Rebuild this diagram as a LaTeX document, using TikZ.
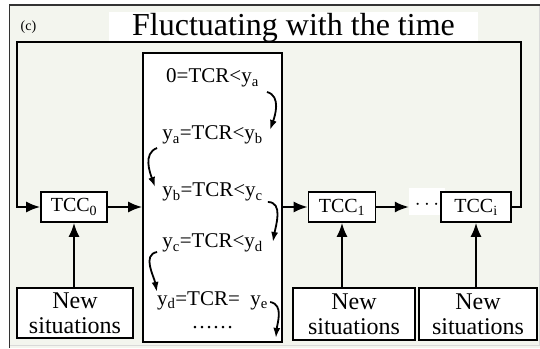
\documentclass[tikz,border=0pt]{standalone}
\usepackage{fontspec}
\setmainfont{Liberation Serif}
\usetikzlibrary{arrows.meta,calc}
\definecolor{bgpanel}{RGB}{243,245,238}
\begin{document}
\begin{tikzpicture}[
  x=1pt, y=1pt,
  box/.style={draw, line width=1.8pt, fill=white, inner sep=0pt},
  tcc/.style={box, minimum width=66pt, minimum height=30pt, font=\fontsize{20}{22}\selectfont},
  newbox/.style={box, minimum height=50pt, align=center, font=\fontsize{24}{25}\selectfont},
  row/.style={anchor=base, inner sep=0pt, font=\fontsize{21}{24}\selectfont},
  flow/.style={line width=1.8pt, -{Latex[length=14pt,width=11pt]}},
  hop/.style={line width=1.8pt, -{Latex[length=10pt,width=7pt]}}
]
  \useasboundingbox (0,0) rectangle (540,348);
  \fill[bgpanel] (9.5,0) rectangle (540,343);
  \draw[gray!30, line width=1pt] (539,343) -- (539,3) -- (9.5,3);
  \draw[black!80, line width=1.4pt] (9.5,0) -- (9.5,343) -- (540,343);

  \node[font=\fontsize{14}{16}\selectfont, anchor=base, inner sep=0pt] (tag) at (28.5,317) {(c)};
  \node[fill=white, minimum width=369pt, inner sep=0pt, text height=24pt, text depth=5pt,
        font=\fontsize{32}{36}\selectfont] (title) at (293.5,321.5) {Fluctuating with the time};

  \node[box, minimum width=139pt, minimum height=289pt] (levels) at (212.5,150.5) {};
  \node[row] (r1) at (212.5,265) {0=TCR<y\textsubscript{a}};
  \node[row] (r2) at (212.5,208) {y\textsubscript{a}=TCR<y\textsubscript{b}};
  \node[row] (r3) at (212.5,151) {y\textsubscript{b}=TCR<y\textsubscript{c}};
  \node[row] (r4) at (212.5,100) {y\textsubscript{c}=TCR<y\textsubscript{d}};
  \node[row] (r5) at (212.5,43)  {y\textsubscript{d}=TCR=\hspace{0.5em}y\textsubscript{e}};
  \node[row] (r6) at (212.5,20)  {……};

  \draw[hop] ($(r1.base east)+(8,-9)$) to[out=-15,in=70] ($(r2.base east)+(7,10)$);
  \draw[hop] ($(r2.base west)+(-5,-8)$) to[out=200,in=110] ($(r3.base west)+(-7,10)$);
  \draw[hop] ($(r3.base east)+(5,-5)$) to[out=0,in=80] ($(r4.base east)+(10,6)$);
  \draw[hop] ($(r4.base west)+(-5,-4)$) to[out=190,in=100] ($(r5.base west)+(0,13)$);
  \draw[hop] ($(r5.base east)+(2,3)$) to[out=-10,in=85] ($(levels.south east)+(-7,5)$);

  \node[fill=white, minimum width=36pt, minimum height=27pt, inner sep=0pt,
        text height=17pt, text depth=0pt,
        font=\fontsize{20}{22}\selectfont] (dots) at (427,146.5) {$\cdots$};
  \node[tcc] (tcc0) at (74,141) {TCC\textsubscript{0}};
  \node[tcc, minimum width=67pt] (tcc1) at (342,141) {TCC\textsubscript{1}};
  \node[tcc, minimum width=70pt] (tcci) at (476,141) {TCC\textsubscript{i}};

  \node[newbox, minimum width=116pt] (new0) at (75,35) {New\\situations};
  \node[newbox, minimum width=122pt, minimum height=52pt] (new1) at (354,34) {New\\situations};
  \node[newbox, minimum width=118pt, minimum height=52pt] (new2) at (478,34) {New\\situations};

  \coordinate (ltop) at (17,306);
  \coordinate (rtop) at (521,306);
  \draw[flow] (tcci.east) -| (rtop) -- (ltop) |- (tcc0.west);
  \draw[flow] (tcc0.east) -- (tcc0.east -| levels.west);
  \draw[flow] (levels.east |- tcc1.west) -- (tcc1.west);
  \draw[flow] (tcc1.east) -- (tcc1.east -| dots.west);
  \draw[flow] (tcc0.south |- new0.north) -- (tcc0.south);
  \draw[flow] (tcc1.south |- new1.north) -- (tcc1.south);
  \draw[flow] (tcci.south |- new2.north) -- (tcci.south);
\end{tikzpicture}
\end{document}
